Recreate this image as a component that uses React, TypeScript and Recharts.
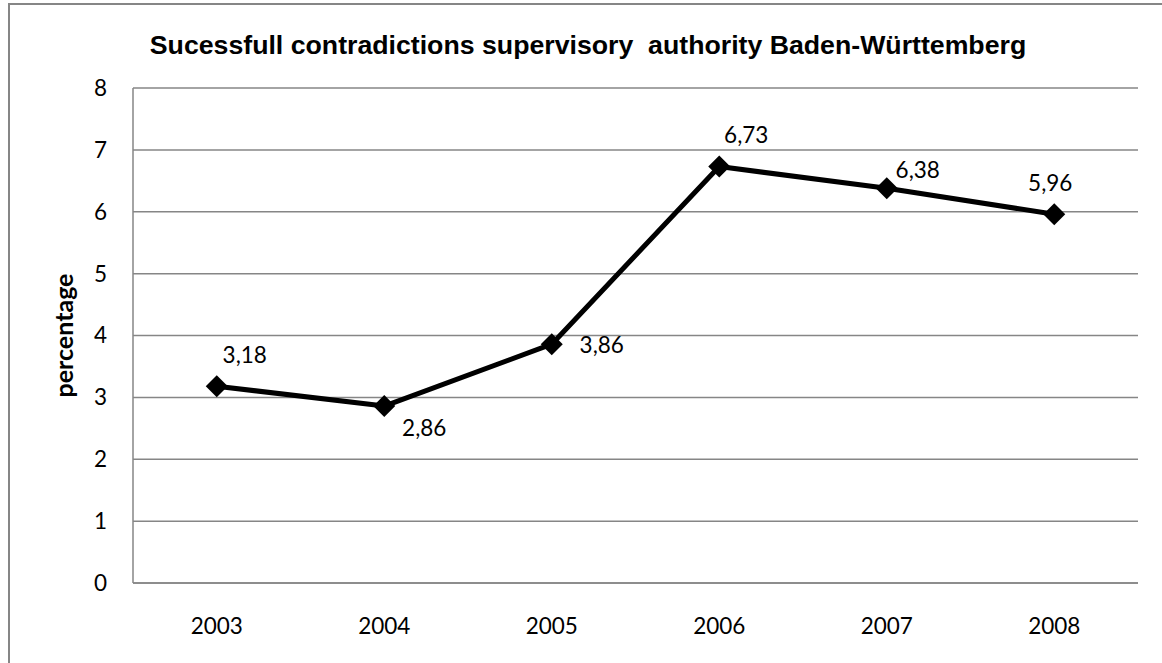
import { LineChart, Line, XAxis, YAxis, CartesianGrid } from 'recharts';

const years = ['2003', '2004', '2005', '2006', '2007', '2008'];
const percentage = [3.18, 2.86, 3.86, 6.73, 6.38, 5.96];
const yTicks = [0, 1, 2, 3, 4, 5, 6, 7, 8];

// where each value label sits relative to its marker
const labelOffsets = [
  { dx: 28, dy: -32 },
  { dx: 40, dy: 21 },
  { dx: 50, dy: 0 },
  { dx: 27, dy: -32 },
  { dx: 31, dy: -19 },
  { dx: -4, dy: -32 },
];

const data = years.map((year, i) => ({ year, value: percentage[i] }));

const GRID = '#868686';
const TICK_FONT = 'Lato, "Open Sans", sans-serif';

const Diamond = (props: any) => {
  const { cx, cy, index } = props;
  if (cx == null || cy == null) return null;
  const r = 11;
  return (
    <polygon
      key={`d-${index}`}
      points={`${cx},${cy - r} ${cx + r},${cy} ${cx},${cy + r} ${cx - r},${cy}`}
      fill="#000"
    />
  );
};

const ValueLabel = (props: any) => {
  const { x, y, value, index } = props;
  const off = labelOffsets[index] || { dx: 0, dy: -20 };
  return (
    <text
      x={x + off.dx}
      y={y + off.dy}
      textAnchor="middle"
      dominantBaseline="central"
      fontFamily={TICK_FONT}
      fontSize={22.5}
      fill="#000"
    >
      {Number(value).toFixed(2).replace('.', ',')}
    </text>
  );
};

export default function App() {
  return (
    <div
      style={{
        position: 'absolute',
        left: 0,
        top: 0,
        width: 1162,
        height: 663,
        overflow: 'hidden',
        background: '#fff',
      }}
    >
      {/* chart frame, runs past the right and bottom edges */}
      <div
        style={{
          position: 'absolute',
          left: 8,
          top: 3,
          width: 1200,
          height: 700,
          borderTop: `2px solid ${GRID}`,
          borderLeft: `2px solid ${GRID}`,
        }}
      />
      <div
        style={{
          position: 'absolute',
          left: 9,
          width: 1158,
          top: 29,
          textAlign: 'center',
          fontFamily: '"Liberation Sans", Arial, sans-serif',
          fontWeight: 700,
          fontSize: 26.7,
          lineHeight: '32px',
          whiteSpace: 'pre',
          color: '#000',
        }}
      >
        {'Sucessfull contradictions supervisory  authority Baden-Württemberg'}
      </div>
      <div style={{ position: 'absolute', left: 0, top: 0 }}>
        <LineChart
          width={1162}
          height={663}
          data={data}
          margin={{ top: 88, right: 24, bottom: 0, left: 0 }}
        >
          <CartesianGrid vertical={false} stroke={GRID} strokeWidth={1.5} />
          <XAxis
            dataKey="year"
            height={80}
            padding={{ left: 83.75, right: 83.75 }}
            axisLine={{ stroke: GRID, strokeWidth: 1.5 }}
            tickLine={false}
            tickSize={0}
            tickMargin={35}
            tick={{ fill: '#000', fontSize: 22.5, fontFamily: TICK_FONT }}
          />
          <YAxis
            width={133}
            domain={[0, 8]}
            ticks={yTicks}
            axisLine={{ stroke: GRID, strokeWidth: 1.5 }}
            tickLine={false}
            tickSize={0}
            tickMargin={26}
            tick={{ fill: '#000', fontSize: 22.5, fontFamily: TICK_FONT }}
            label={{
              content: (p: any) => {
                const vb = p.viewBox || {};
                const cx = (vb.x ?? 0) + 63;
                const cy = (vb.y ?? 0) + (vb.height ?? 0) / 2;
                return (
                  <text
                    x={cx}
                    y={cy}
                    transform={`rotate(-90, ${cx}, ${cy})`}
                    textAnchor="middle"
                    dominantBaseline="central"
                    fontFamily={TICK_FONT}
                    fontWeight={700}
                    fontSize={25}
                    fill="#000"
                  >
                    percentage
                  </text>
                );
              },
            }}
          />
          <Line
            dataKey="value"
            stroke="#000"
            strokeWidth={5}
            strokeLinejoin="round"
            dot={Diamond}
            activeDot={false}
            label={ValueLabel}
            isAnimationActive={false}
          />
        </LineChart>
      </div>
    </div>
  );
}
